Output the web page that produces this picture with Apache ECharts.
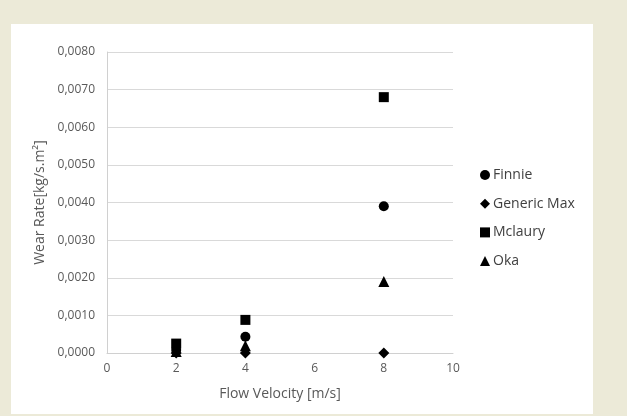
<!DOCTYPE html>
<html>
<head>
<meta charset="utf-8">
<script src="https://cdn.jsdelivr.net/npm/echarts@6/dist/echarts.min.js"></script>
<style>
html,body{margin:0;padding:0;background:#ECEAD8;}
#c{width:627px;height:416px;}
</style>
</head>
<body>
<div id="c"></div>
<script>
var velocities = [2, 4, 8];
var finnie = [0.00008, 0.00043, 0.0039];
var genericMax = [0.0, 0.0, 0.0];
var mclaury = [0.00025, 0.00088, 0.0068];
var oka = [0.00004, 0.00019, 0.0019];
var seriesNames = ['Finnie', 'Generic Max', 'Mclaury', 'Oka'];

function pairs(vals){ return velocities.map(function(v,i){ return [v, vals[i]]; }); }

var font = 'Open Sans';
var chart = echarts.init(document.getElementById('c'));
chart.setOption({
  backgroundColor: '#ECEAD8',
  animation: false,
  textStyle: {fontFamily: font},
  graphic: [{
    type: 'rect', z: -10, silent: true,
    shape: {x: 11, y: 24, width: 582, height: 390},
    style: {fill: '#ffffff'}
  }],
  grid: {left: 107, right: 174, top: 52, bottom: 63},
  legend: {
    orient: 'vertical', left: 475, top: 161, itemGap: 10.7,
    itemWidth: 10, itemHeight: 10,
    textStyle: {fontFamily: font, fontSize: 14, color: '#404040', lineHeight: 18, padding: [0, 0, 0, -2]},
    data: seriesNames
  },
  xAxis: {
    type: 'value', min: 0, max: 10, interval: 2,
    name: 'Flow Velocity [m/s]', nameLocation: 'middle', nameGap: 34,
    nameTextStyle: {fontFamily: font, fontSize: 14, color: '#595959'},
    axisLine: {show: true, lineStyle: {color: '#d0d0d0'}},
    axisTick: {show: false},
    axisLabel: {color: '#595959', fontSize: 12, margin: 10},
    splitLine: {show: false}
  },
  yAxis: {
    type: 'value', min: 0, max: 0.008, interval: 0.001,
    name: 'Wear Rate[kg/s.m²]', nameLocation: 'middle', nameGap: 58,
    nameTextStyle: {fontFamily: font, fontSize: 14, color: '#595959'},
    axisLine: {show: true, lineStyle: {color: '#d0d0d0'}},
    axisTick: {show: false},
    axisLabel: {color: '#595959', fontSize: 12, margin: 12,
      formatter: function(v){ return v.toFixed(4).replace('.', ','); }},
    splitLine: {show: true, lineStyle: {color: '#d9d9d9'}}
  },
  series: [
    {name: seriesNames[0], type: 'scatter', symbol: 'circle', symbolSize: 10, itemStyle: {color: '#000', opacity: 1}, data: pairs(finnie)},
    {name: seriesNames[1], type: 'scatter', symbol: 'diamond', symbolSize: 11, itemStyle: {color: '#000', opacity: 1}, data: pairs(genericMax)},
    {name: seriesNames[2], type: 'scatter', symbol: 'rect', symbolSize: 10, itemStyle: {color: '#000', opacity: 1}, data: pairs(mclaury)},
    {name: seriesNames[3], type: 'scatter', symbol: 'triangle', symbolSize: 11, itemStyle: {color: '#000', opacity: 1}, data: pairs(oka)}
  ]
});
</script>
</body>
</html>
